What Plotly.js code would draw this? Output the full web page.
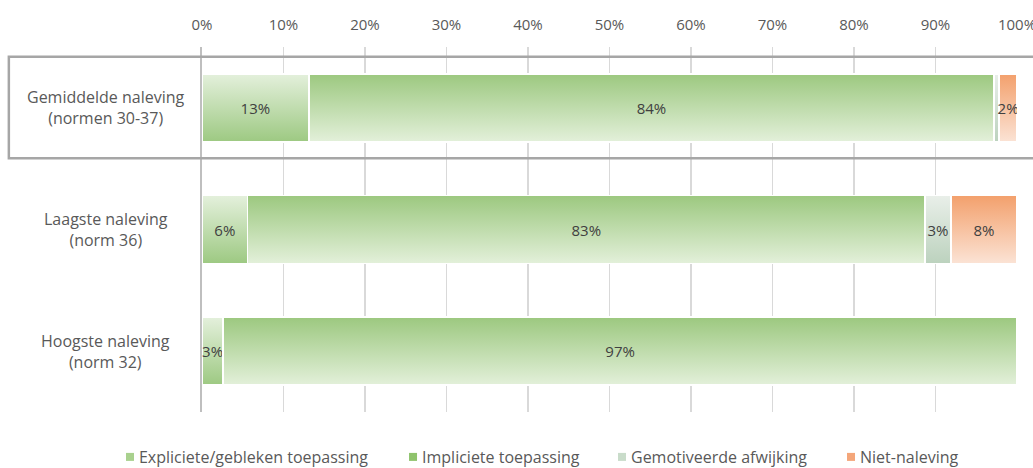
<!DOCTYPE html>
<html>
<head>
<meta charset="utf-8">
<script src="https://cdn.plot.ly/plotly-3.0.1.min.js"></script>
<style>
  html, body { margin: 0; padding: 0; background: #fff; }
  #chart { width: 1033px; height: 468px; }
</style>
</head>
<body>
<div id="chart"></div>
<script>
// ---- data ----
const categories = ["Gemiddelde naleving<br>(normen 30-37)", "Laagste naleving<br>(norm 36)", "Hoogste naleving<br>(norm 32)"];
const seriesNames = ["Expliciete/gebleken toepassing", "Impliciete toepassing", "Gemotiveerde afwijking", "Niet-naleving"];
const expliciet = [13.1, 5.6, 2.6];
const impliciet = [84.1, 83.1, 97.4];
const gemotiveerd = [0.6, 3.2, 0];
const nietNaleving = [2.2, 8.1, 0];
const explicietLabels = ["13%", "6%", "3%"];
const implicietLabels = ["84%", "83%", "97%"];
const gemotiveerdLabels = ["", "3%", ""];
const nietNalevingLabels = ["2%", "8%", ""];
const tickValues = [0, 10, 20, 30, 40, 50, 60, 70, 80, 90, 100];
const tickLabels = ["0%", "10%", "20%", "30%", "40%", "50%", "60%", "70%", "80%", "90%", "100%"];

// ---- styles ----
const legendColors = ["#a9d18e", "#8fc36c", "#c9dcca", "#f4a67a"];
const gradients = [
  ["#e4f0dc", "#9dc982"],
  ["#9cc87f", "#e3f0da"],
  ["#e9efe9", "#bcd2be"],
  ["#f3a06c", "#fbe3d5"]
];
const legendX = [-0.1264, 0.2209, 0.4773, 0.7583];
const legendIds = ["legend", "legend2", "legend3", "legend4"];
const FONT = "Open Sans, Noto Sans, sans-serif";

const values = [expliciet, impliciet, gemotiveerd, nietNaleving];
const labels = [explicietLabels, implicietLabels, gemotiveerdLabels, nietNalevingLabels];

const traces = values.map((v, i) => ({
  type: "bar",
  orientation: "h",
  name: seriesNames[i],
  legend: legendIds[i],
  y: categories,
  x: v,
  text: labels[i],
  textposition: "inside",
  insidetextanchor: "middle",
  textangle: 0,
  constraintext: "none",
  textfont: { family: FONT, size: 15, color: "#404040" },
  marker: { color: legendColors[i], line: { color: "#ffffff", width: 1.5 } },
  hoverinfo: "skip"
}));

const legendBase = {
  orientation: "h",
  xanchor: "left",
  y: -0.1233, yanchor: "middle",
  bgcolor: "rgba(0,0,0,0)",
  font: { family: FONT, size: 16, color: "#595959" }
};

const layout = {
  width: 1033,
  height: 468,
  barmode: "stack",
  bargap: 0.44,
  margin: { l: 202, r: 16, t: 47, b: 56, autoexpand: false },
  paper_bgcolor: "#ffffff",
  plot_bgcolor: "#ffffff",
  font: { family: FONT, color: "#595959", size: 15 },
  showlegend: true,
  legend: Object.assign({}, legendBase, { x: legendX[0] }),
  legend2: Object.assign({}, legendBase, { x: legendX[1] }),
  legend3: Object.assign({}, legendBase, { x: legendX[2] }),
  legend4: Object.assign({}, legendBase, { x: legendX[3] }),
  xaxis: {
    side: "top",
    range: [0, 100],
    tickvals: tickValues,
    ticktext: tickLabels,
    showgrid: true,
    gridcolor: "#d9d9d9",
    gridwidth: 1.5,
    zeroline: false,
    showline: false,
    ticks: "",
    ticklabelstandoff: 13,
    ticklabeloverflow: "allow",
    tickfont: { family: FONT, size: 15, color: "#595959" },
    fixedrange: true
  },
  yaxis: {
    type: "category",
    autorange: "reversed",
    showline: true,
    linecolor: "#bfbfbf",
    linewidth: 2,
    showgrid: false,
    ticks: "",
    showticklabels: false,
    fixedrange: true
  },
  annotations: categories.map(c => ({
    xref: "paper", yref: "y",
    x: -0.118, y: c,
    text: c,
    showarrow: false,
    align: "center",
    xanchor: "center", yanchor: "middle",
    font: { family: FONT, size: 16, color: "#595959" }
  })),
  shapes: [{
    type: "rect",
    xref: "paper", yref: "y",
    x0: -0.237, x1: 1.05,
    y0: -0.42, y1: 0.415,
    line: { color: "#a6a6a6", width: 2.5 },
    fillcolor: "rgba(0,0,0,0)",
    layer: "above"
  }]
};

Plotly.newPlot("chart", traces, layout, { displayModeBar: false, staticPlot: true }).then(gd => {
  const svg = gd.querySelector("svg.main-svg");
  const ns = "http://www.w3.org/2000/svg";
  let defs = svg.querySelector("defs");
  if (!defs) { defs = document.createElementNS(ns, "defs"); svg.insertBefore(defs, svg.firstChild); }
  gradients.forEach((g, i) => {
    const lg = document.createElementNS(ns, "linearGradient");
    lg.setAttribute("id", "bargrad" + i);
    lg.setAttribute("x1", "0"); lg.setAttribute("y1", "0");
    lg.setAttribute("x2", "0"); lg.setAttribute("y2", "1");
    [[0, g[0]], [1, g[1]]].forEach(([o, c]) => {
      const s = document.createElementNS(ns, "stop");
      s.setAttribute("offset", o);
      s.setAttribute("stop-color", c);
      lg.appendChild(s);
    });
    defs.appendChild(lg);
  });
  gd.querySelectorAll(".barlayer .trace").forEach((tg, i) => {
    tg.querySelectorAll(".point path").forEach(p => {
      p.style.fill = "url(#bargrad" + i + ")";
    });
  });
  // smaller legend squares placed close to the text, like the reference
  gd.querySelectorAll(".legendpoints path").forEach(p => {
    p.setAttribute("d", "M15,4H7V-4H15Z");
    p.style.strokeWidth = "0";
  });
});
</script>
</body>
</html>
